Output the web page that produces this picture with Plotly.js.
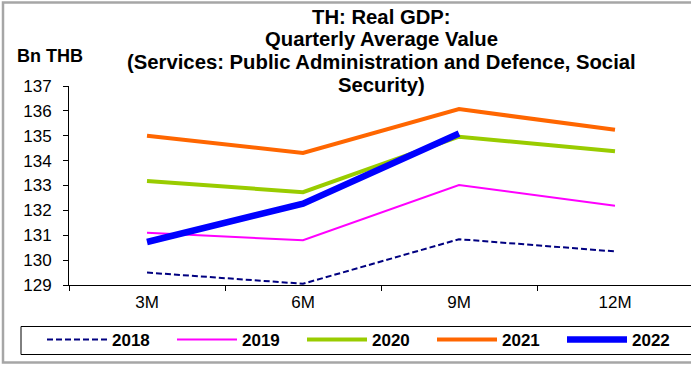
<!DOCTYPE html>
<html>
<head>
<meta charset="utf-8">
<script src="https://cdn.plot.ly/plotly-3.0.1.min.js"></script>
<style>
html,body{margin:0;padding:0;overflow:hidden;background:#fff;}
#chart{width:700px;height:365px;}
</style>
</head>
<body>
<div id="chart"></div>
<script>
const categories = ["3M", "6M", "9M", "12M"];
const s2018 = [129.5, 129.05, 130.84, 130.35];
const s2019 = [131.1, 130.8, 133.02, 132.19];
const s2020 = [133.18, 132.73, 134.96, 134.38];
const s2021 = [135.0, 134.31, 136.07, 135.24];
const s2022 = [130.73, 132.27, 135.09];
const seriesNames = ["2018", "2019", "2020", "2021", "2022"];
const yTicks = [129, 130, 131, 132, 133, 134, 135, 136, 137];
const titleLines = [
  "TH: Real GDP:",
  "Quarterly Average Value",
  "(Services: Public Administration and Defence, Social",
  "Security)"
];
const yUnit = "Bn THB";

const FONT = "Liberation Sans, Arial, sans-serif";
const styles = [
  {color: "#000080", width: 2, dash: "6px,3px"},
  {color: "#FF00FF", width: 2, dash: "solid"},
  {color: "#99CC00", width: 4, dash: "solid"},
  {color: "#FF6600", width: 4, dash: "solid"},
  {color: "#0000FF", width: 6.5, dash: "solid"}
];
const seriesData = [s2018, s2019, s2020, s2021, s2022];

const traces = seriesData.map((vals, i) => ({
  type: "scatter",
  mode: "lines",
  name: seriesNames[i],
  x: categories.slice(0, vals.length),
  y: vals,
  line: styles[i],
  cliponaxis: false
}));

const L = 69, W = 700, H = 365, PLOT_R = 693, PLOT_T = 86, PLOT_B = 285;
const pw = PLOT_R - L, ph = PLOT_B - PLOT_T;
const px = v => (v - L) / pw;
const py = v => (PLOT_B - v) / ph;

const titleY = [17, 39.5, 62, 85];
const annotations = titleLines.map((t, i) => ({
  text: "<b>" + t + "</b>",
  xref: "paper", yref: "paper",
  x: px(381), y: py(titleY[i]), xanchor: "center", yanchor: "middle",
  showarrow: false,
  font: {family: FONT, size: 20.3, color: "#000"}
}));
annotations.push({
  text: "<b>" + yUnit + "</b>",
  xref: "paper", yref: "paper",
  x: px(50), y: py(56), xanchor: "center", yanchor: "middle",
  showarrow: false,
  font: {family: FONT, size: 18, color: "#000"}
});

const layout = {
  width: W, height: H,
  margin: {l: L, r: W - PLOT_R, t: PLOT_T, b: H - PLOT_B, pad: 0, autoexpand: false},
  paper_bgcolor: "#fff", plot_bgcolor: "#fff",
  font: {family: FONT, size: 17, color: "#000"},
  xaxis: {
    type: "category",
    categoryarray: categories,
    range: [-0.5, 3.5],
    showgrid: false, zeroline: false,
    showline: true, linecolor: "#000", linewidth: 1,
    ticks: "outside", tickson: "boundaries", ticklen: 5, tickcolor: "#000",
    tickfont: {family: FONT, size: 17, color: "#000"},
    ticklabelstandoff: 2
  },
  yaxis: {
    range: [129, 137],
    tickvals: yTicks,
    showgrid: false, zeroline: false,
    showline: true, linecolor: "#000", linewidth: 1,
    ticks: "outside", ticklen: 5, tickcolor: "#000",
    tickfont: {family: FONT, size: 17, color: "#000"},
    ticklabelstandoff: 8
  },
  showlegend: true,
  legend: {
    orientation: "h",
    x: px(42), xanchor: "left",
    y: py(340), yanchor: "middle",
    borderwidth: 0,
    bgcolor: "rgba(0,0,0,0)",
    font: {family: FONT, size: 17, color: "#000", weight: "bold"},
    entrywidth: 55, entrywidthmode: "pixels",
    itemwidth: 60,
    tracegroupgap: 0
  },
  annotations: annotations,
  shapes: [{
    type: "rect", xref: "paper", yref: "paper",
    x0: px(3), x1: px(720), y0: py(362.5), y1: py(2.5),
    line: {color: "#a6a6a6", width: 2.5},
    fillcolor: "rgba(0,0,0,0)",
    layer: "below"
  }, {
    type: "rect", xref: "paper", yref: "paper",
    x0: px(21), x1: px(720), y0: py(354.5), y1: py(326.5),
    line: {color: "#000", width: 1},
    fillcolor: "rgba(0,0,0,0)",
    layer: "below"
  }]
};

Plotly.newPlot("chart", traces, layout, {displayModeBar: false, staticPlot: true});
</script>
</body>
</html>
